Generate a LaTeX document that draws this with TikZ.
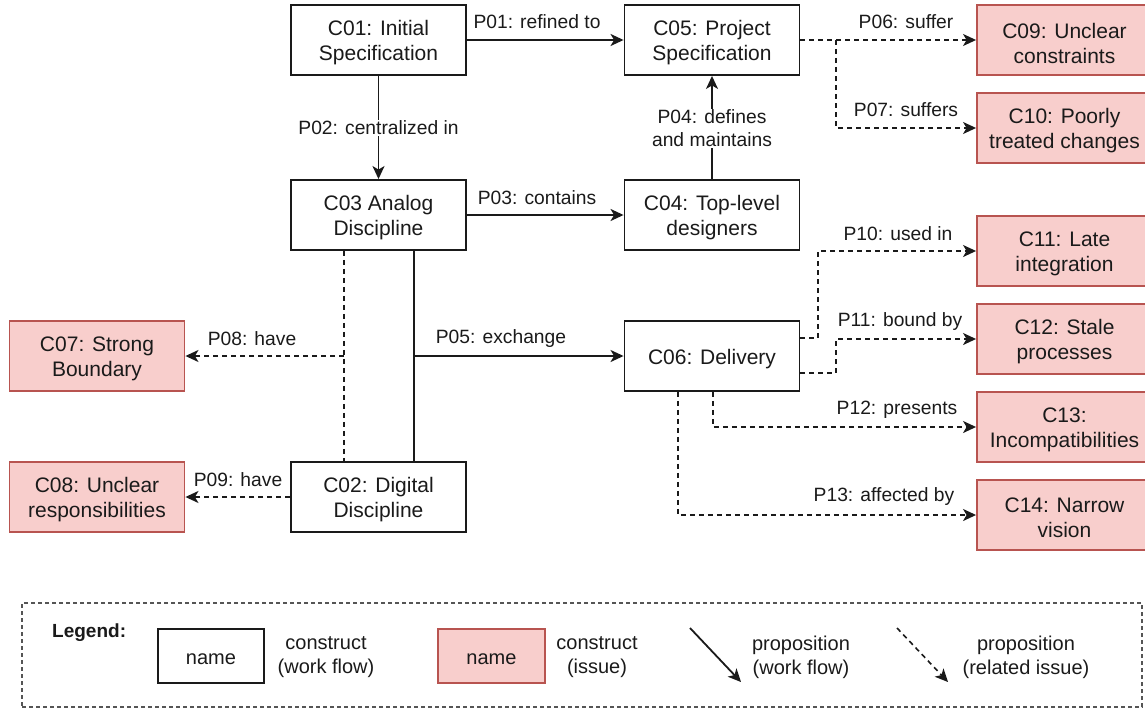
\documentclass[tikz,border=0pt]{standalone}
\usepackage{fontspec}
\setmainfont{Liberation Sans}
\usetikzlibrary{arrows.meta}
\definecolor{ink}{HTML}{1A1A1A}
\definecolor{issuefill}{HTML}{F8CECC}
\definecolor{issueline}{HTML}{B85450}
\definecolor{legendline}{HTML}{555555}

\begin{document}
\begin{tikzpicture}[x=1pt,y=-1pt,
  every node/.style={text=ink},
  boxtext/.style={font=\fontsize{21}{25}\selectfont, align=center, inner sep=0pt, yshift=-3pt},
  shell/.style={draw=ink, line width=1.9pt, fill=white, minimum width=175pt,
    minimum height=70pt, inner sep=0pt},
  construct/.style={shell, label={[boxtext]center:#1}},
  issuebox/.style={shell, draw=issueline, fill=issuefill, label={[boxtext]center:#1}},
  lab/.style={font=\fontsize{19.25}{23}\selectfont, align=center, inner sep=1pt},
  legtext/.style={font=\fontsize{20}{24}\selectfont, align=center, inner sep=0pt},
  tip/.style={-{Stealth[length=13pt,width=12pt,inset=3.5pt]}},
  wire/.style={draw=ink, line width=1.8pt},
  flow/.style={wire, tip},
  relwire/.style={draw=ink, line width=1.6pt, dash pattern=on 5pt off 4pt},
  rel/.style={relwire, tip}
]
\useasboundingbox (0,0) rectangle (1145,709);

% work-flow constructs
\node[construct={C01: Initial\\Specification}] (C01) at (378.5,40) {};
\node[construct={C05: Project\\Specification}] (C05) at (712,40) {};
\node[construct={C03 Analog\\Discipline}] (C03) at (378.5,215) {};
\node[construct={C04: Top-level\\designers}] (C04) at (712,215) {};
\node[construct={C06: Delivery}] (C06) at (712,356) {};
\node[construct={C02: Digital\\Discipline}] (C02) at (378.5,497) {};

% issue constructs
\node[issuebox={C07: Strong\\Boundary}] (C07) at (97,356) {};
\node[issuebox={C08: Unclear\\responsibilities}] (C08) at (97,497) {};
\node[issuebox={C09: Unclear\\constraints}] (C09) at (1064.5,40) {};
\node[issuebox={C10: Poorly\\treated changes}] (C10) at (1064.5,128) {};
\node[issuebox={C11: Late\\integration}] (C11) at (1064.5,251) {};
\node[issuebox={C12: Stale\\processes}] (C12) at (1064.5,339) {};
\node[issuebox={C13:\\Incompatibilities}] (C13) at (1064.5,427) {};
\node[issuebox={C14: Narrow\\vision}] (C14) at (1064.5,515) {};

% bend and junction points
\coordinate (j05) at (414,356);
\coordinate (j08) at (344,356);
\coordinate (j07) at (836,40);
\coordinate (k10) at (818,338);
\coordinate (k11) at (836,373);
\coordinate (k12) at (713,426);
\coordinate (k13) at (678,515);

% work-flow propositions
\draw[flow] (C01) -- (C05) node[lab] at (537,22) {P01: refined to};
\draw[flow] (C01) -- (C03);
\node[lab, fill=white] (l02) at (378.5,128) {P02: centralized in};
\draw[flow] (C03) -- (C04) node[lab] at (537,198) {P03: contains};
\draw[flow] (C04) -- (C05);
\node[lab, fill=white] (l04) at (712,128.5) {P04: defines\\and maintains};
\draw[wire] (C03.south -| j05) -- (C02.north -| j05);
\draw[flow] (j05) -- (C06.west) node[lab] at (501,339) {P05: exchange};

% related-issue propositions
\draw[rel] (C05.east) -- (C09.west) node[lab] at (906,22) {P06: suffer};
\draw[rel] (j07) |- (C10.west) node[lab] at (906,110) {P07: suffers};
\draw[relwire] (C03.south -| j08) -- (C02.north -| j08);
\draw[rel] (j08) -- (C07.east) node[lab] at (252,339) {P08: have};
\draw[rel] (C02.west) -- (C08.east) node[lab] at (238,480) {P09: have};
\draw[rel] (C06.east |- k10) -- (k10) |- (C11.west) node[lab] at (898,234) {P10: used in};
\draw[rel] (C06.east |- k11) -- (k11) |- (C12.west) node[lab] at (900,322) {P11: bound by};
\draw[rel] (C06.south -| k12) |- (C13.west) node[lab] at (897,410) {P12: presents};
\draw[rel] (C06.south -| k13) |- (C14.west) node[lab] at (884,497) {P13: affected by};

% legend
\node[draw=legendline, line width=1.2pt, dash pattern=on 4pt off 3pt,
  minimum width=1120pt, minimum height=104pt, inner sep=0pt] (legend) at (582,655) {};
\node[legtext, font=\fontsize{19}{23}\selectfont\bfseries, anchor=west] (legtitle) at (52,633) {Legend:};
\node[shell, minimum width=106pt, minimum height=54pt, label={[boxtext, font=\fontsize{20}{24}\selectfont]center:name}] (Lw) at (211,656) {};
\node[legtext] (Lwt) at (326,657) {construct\\(work flow)};
\node[shell, draw=issueline, fill=issuefill, minimum width=107pt, minimum height=54pt, label={[boxtext, font=\fontsize{20}{24}\selectfont]center:name}] (Li) at (491.5,656) {};
\node[legtext] (Lit) at (597,657) {construct\\(issue)};
\coordinate (La1) at (690,628);
\coordinate (La2) at (741,682);
\draw[flow] (La1) -- (La2);
\node[legtext] (Lat) at (801,657) {proposition\\(work flow)};
\coordinate (Lb1) at (897,628);
\coordinate (Lb2) at (948,682);
\draw[rel] (Lb1) -- (Lb2);
\node[legtext] (Lbt) at (1026,657) {proposition\\(related issue)};
\end{tikzpicture}
\end{document}
